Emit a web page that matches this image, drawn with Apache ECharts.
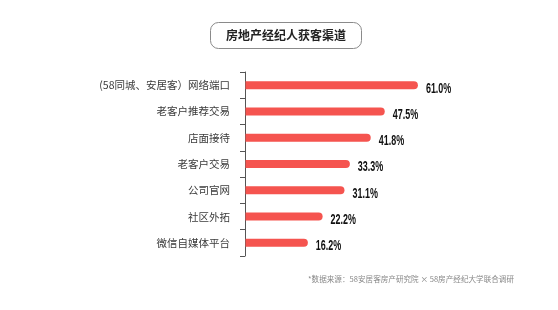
<!DOCTYPE html>
<html>
<head>
<meta charset="utf-8">
<script src="https://cdn.jsdelivr.net/npm/echarts@6/dist/echarts.min.js"></script>
<style>html,body{margin:0;padding:0;background:#fff;}#c{width:558px;height:310px;}</style>
</head>
<body>
<div id="c"></div>
<script>
var titleText = '房地产经纪人获客渠道';
var sourceText = '*数据来源：58安居客房产研究院 × 58房产经纪大学联合调研';
var categories = ['(58同城、安居客）网络端口', '老客户推荐交易', '店面接待', '老客户交易', '公司官网', '社区外拓', '微信自媒体平台'];
var values = [61.0, 47.5, 41.8, 33.3, 31.1, 22.2, 16.2];

var XMIN = -9.4, XMAX = 70;
var chart = echarts.init(document.getElementById('c'));
var CJK = '"Noto Sans CJK SC", "Noto Sans", sans-serif';
chart.setOption({
  backgroundColor: '#fff',
  animation: false,
  title: [{
    text: titleText,
    left: 210, top: 22,
    padding: [7, 16, 7, 16],
    borderColor: '#8a8a8a', borderWidth: 1, borderRadius: 8,
    textStyle: {fontSize: 12, fontWeight: 'bold', color: '#222', fontFamily: CJK, lineHeight: 13}
  }, {
    text: sourceText,
    left: 308, top: 275,
    padding: 0,
    textStyle: {fontSize: 7.6, fontWeight: 'normal', color: '#888', fontFamily: CJK}
  }],
  grid: {left: 245, top: 72, width: 195, height: 184, containLabel: false},
  xAxis: {type: 'value', min: XMIN, max: XMAX, show: false},
  yAxis: {
    type: 'category', data: categories, inverse: true,
    axisLine: {show: true, onZero: false, lineStyle: {color: '#555', width: 1}},
    axisTick: {show: true, length: 5, lineStyle: {color: '#555'}},
    axisLabel: {margin: 15, fontSize: 10.5, color: '#3a3a3a', fontFamily: CJK}
  },
  series: [{
    type: 'custom',
    data: values.map(function (v, i) { return [v, i]; }),
    encode: {x: 0, y: 1},
    renderItem: function (params, api) {
      var v = api.value(0), i = api.value(1);
      var start = api.coord([XMIN, i]);
      var end = api.coord([v, i]);
      var h = 8;
      return {
        type: 'group',
        children: [{
          type: 'rect',
          shape: {x: start[0] + 0.5, y: end[1] - h / 2, width: end[0] - start[0] - 0.5, height: h, r: [0, 4, 4, 0]},
          style: {fill: '#F5544F'}
        }, {
          type: 'text',
          x: end[0] + 8, y: end[1] + 3.5,
          scaleX: 0.64,
          style: {
            x: 0, y: 0,
            text: v.toFixed(1) + '%',
            fill: '#111',
            font: 'bold 14px "Liberation Sans", Arial, sans-serif',
            align: 'left', verticalAlign: 'middle'
          }
        }]
      };
    }
  }]
});
</script>
</body>
</html>
